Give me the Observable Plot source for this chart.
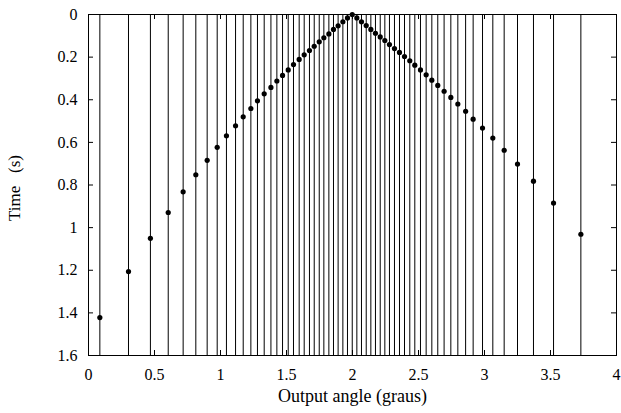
<!DOCTYPE html>
<html><head><meta charset="utf-8">
<script src="https://cdn.jsdelivr.net/npm/d3@7"></script>
<script src="https://cdn.jsdelivr.net/npm/@observablehq/plot@0.6"></script>
<style>body{margin:0;background:#fff}</style>
</head><body><div id="chart"></div>
<script>
const angles = [0.086,0.303,0.469,0.604,0.717,0.813,0.899,0.975,1.045,1.114,1.172,1.230,1.280,1.331,1.382,1.427,
1.470,1.513,1.553,1.596,1.634,1.674,1.710,1.748,1.783,1.821,1.856,1.891,1.927,1.962,1.998,
2.033,2.068,2.104,2.139,2.174,2.210,2.245,2.280,2.318,2.356,2.394,2.434,2.472,2.515,2.558,2.601,2.646,2.694,2.745,2.798,2.857,
2.914,2.985,3.063,3.149,3.250,3.371,3.523,3.730];
const times = [1.422,1.206,1.050,0.929,0.832,0.752,0.684,0.623,0.569,0.522,0.480,0.441,0.405,0.372,0.342,0.312,
0.286,0.260,0.235,0.211,0.189,0.169,0.149,0.128,0.109,0.091,0.070,0.053,0.034,0.016,0.000,
0.016,0.034,0.052,0.070,0.088,0.105,0.122,0.141,0.160,0.178,0.197,0.217,0.238,0.260,0.283,0.308,0.333,0.360,0.389,0.420,0.454,
0.491,0.533,0.580,0.637,0.702,0.782,0.885,1.031];
const xTicks = [0,0.5,1,1.5,2,2.5,3,3.5,4];
const yTicks = [0,0.2,0.4,0.6,0.8,1,1.2,1.4,1.6];
const xLabel = "Output angle (graus)";
const yLabel = "Time\u00a0\u00a0 (s)";
const data = angles.map((a,i)=>({angle:a, time:times[i]}));
const font = "Liberation Serif, Times New Roman, serif";
const W = 621, H = 413, mL = 88, mR = 5, mT = 14, mB = 58;
const plotW = W - mL - mR, plotH = H - mT - mB, tk = 5;
const chart = Plot.plot({
  width: W, height: H,
  marginLeft: mL, marginRight: mR, marginTop: mT, marginBottom: mB,
  style: {fontFamily: font, fontSize: "16px", color: "#000", background: "#fff"},
  x: {domain: [0,4]},
  y: {domain: [0,1.6], reverse: true},
  marks: [
    Plot.ruleX(data, {x: "angle", stroke: "#000", strokeWidth: 1}),
    Plot.dot(data, {x: "angle", y: "time", r: 2.6, fill: "#000", stroke: null}),
    Plot.tickX(xTicks, {x: d => d, insetTop: plotH - tk, stroke: "#000"}),
    Plot.tickX(xTicks, {x: d => d, insetBottom: plotH - tk, stroke: "#000"}),
    Plot.tickY(yTicks, {y: d => d, insetRight: plotW - tk, stroke: "#000"}),
    Plot.tickY(yTicks, {y: d => d, insetLeft: plotW - tk, stroke: "#000"}),
    Plot.axisX(xTicks, {anchor: "bottom", tickSize: 0, tickPadding: 13, label: null, tickFormat: d => String(d)}),
    Plot.axisY(yTicks, {anchor: "left", tickSize: 0, tickPadding: 11, label: null, tickFormat: d => String(d)}),
    Plot.text([xLabel], {text: d => d, frameAnchor: "bottom", dy: 46, fontSize: 18}),
    Plot.text([yLabel], {text: d => d, frameAnchor: "left", textAnchor: "middle", lineAnchor: "middle", dx: -74, dy: 3, rotate: -90, fontSize: 17}),
    Plot.frame({stroke: "#000", strokeWidth: 1})
  ]
});
document.getElementById("chart").appendChild(chart);
</script>
</body></html>
